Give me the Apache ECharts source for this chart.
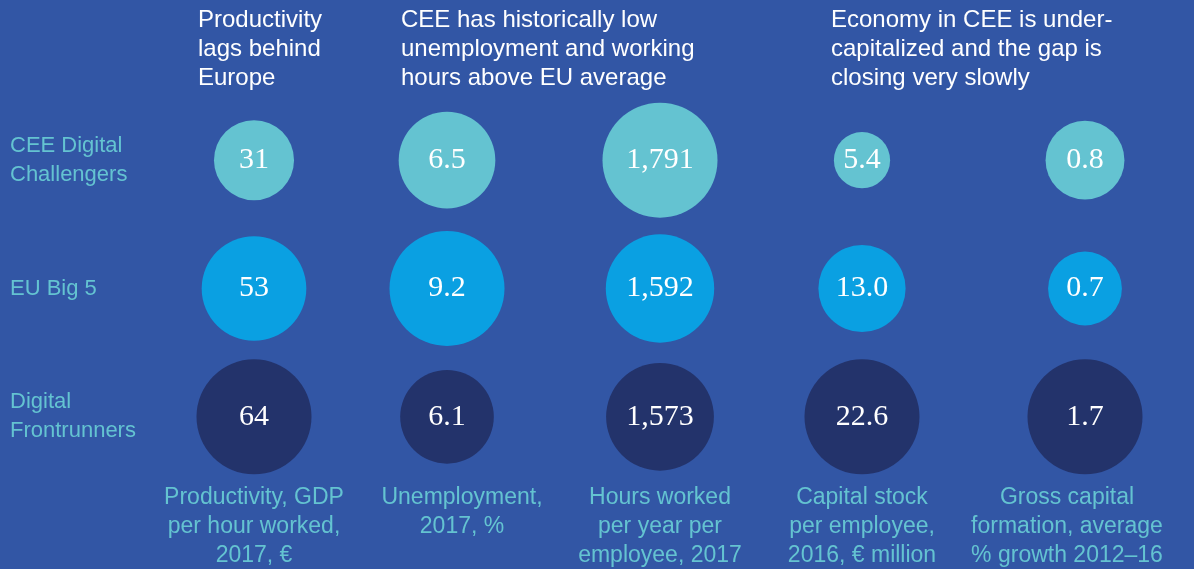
<!DOCTYPE html>
<html>
<head>
<meta charset="utf-8">
<title>CEE digital challengers</title>
<script src="https://cdn.jsdelivr.net/npm/echarts@6/dist/echarts.min.js"></script>
<style>
  html, body { margin: 0; padding: 0; background: #3256a5; }
  #chart { width: 1194px; height: 569px; }
</style>
</head>
<body>
<div id="chart"></div>
<script>
// groups (rows) and metrics (columns)
const groups = ['CEE Digital\nChallengers', 'EU Big 5', 'Digital\nFrontrunners'];
const metrics = [
  'Productivity, GDP\nper hour worked,\n2017, €',
  'Unemployment,\n2017, %',
  'Hours worked\nper year per\nemployee, 2017',
  'Capital stock\nper employee,\n2016, € million',
  'Gross capital\nformation, average\n% growth 2012–16'
];
const headlines = [
  'Productivity\nlags behind\nEurope',
  'CEE has historically low\nunemployment and working\nhours above EU average',
  'Economy in CEE is under-\ncapitalized and the gap is\nclosing very slowly'
];

// values per metric, in group order
const productivity = [31, 53, 64];
const unemployment = [6.5, 9.2, 6.1];
const hoursWorked = [1791, 1592, 1573];
const capitalStock = [5.4, 13.0, 22.6];
const capitalFormation = [0.8, 0.7, 1.7];
const decimals = [0, 1, 0, 1, 1];

const columns = [productivity, unemployment, hoursWorked, capitalStock, capitalFormation];
const groupColors = ['#64c3d1', '#0aa0e2', '#23336b'];
const teal = '#64c3d1';

// layout
const colCenters = [254, 447, 660, 862, 1085];
const labelPad = [[0, 0, 0, 0], [0, 0, 0, 30], [0, 0, 0, 0], [0, 0, 0, 0], [0, 36, 0, 0]];
const headlinePos = [198, 401, 831];
const maxSize = 115;

function fmt(v, d) {
  return echarts.format.addCommas(v.toFixed(d));
}

const chart = echarts.init(document.getElementById('chart'));

const grids = colCenters.map(cx => ({
  left: cx - 90, width: 180, top: 96, height: 385,
  containLabel: false,
  outerBoundsMode: 'none'
}));

const xAxes = metrics.map((m, i) => ({
  type: 'category',
  gridIndex: i,
  data: [m],
  axisLine: { show: false },
  axisTick: { show: false },
  splitLine: { show: false },
  axisLabel: {
    interval: 0,
    margin: 2,
    color: teal,
    fontFamily: 'Liberation Sans',
    fontSize: 23,
    lineHeight: 29,
    align: 'center',
    padding: labelPad[i]
  }
}));

const yAxes = metrics.map((m, i) => ({
  type: 'category',
  gridIndex: i,
  data: groups,
  inverse: true,
  axisLine: { show: false },
  axisTick: { show: false },
  splitLine: { show: false },
  axisLabel: i === 0 ? {
    margin: 154,
    align: 'left',
    color: teal,
    fontFamily: 'Liberation Sans',
    fontSize: 22,
    lineHeight: 29
  } : { show: false }
}));

const series = columns.map((vals, i) => {
  const max = Math.max.apply(null, vals);
  return {
    type: 'scatter',
    xAxisIndex: i,
    yAxisIndex: i,
    silent: true,
    symbol: 'circle',
    symbolSize: d => maxSize * Math.sqrt(d[2] / max),
    data: vals.map((v, r) => ({
      value: [0, r, v],
      itemStyle: { color: groupColors[r], opacity: 1 }
    })),
    label: {
      show: true,
      position: 'inside',
      formatter: p => fmt(p.value[2], decimals[i]),
      color: '#ffffff',
      fontFamily: 'Liberation Serif',
      fontSize: 30
    }
  };
});

const titles = headlines.map((h, i) => ({
  text: h,
  left: headlinePos[i],
  top: 6,
  padding: 0,
  textStyle: {
    color: '#ffffff',
    fontFamily: 'Liberation Sans',
    fontWeight: 'normal',
    fontSize: 24,
    lineHeight: 29
  }
}));

chart.setOption({
  backgroundColor: '#3256a5',
  animation: false,
  title: titles,
  grid: grids,
  xAxis: xAxes,
  yAxis: yAxes,
  series: series
});
</script>
</body>
</html>
